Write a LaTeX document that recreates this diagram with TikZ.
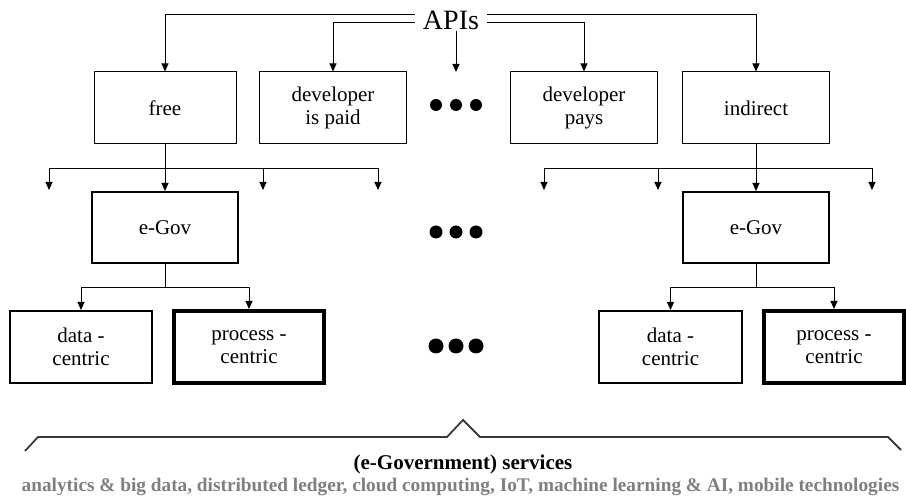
\documentclass[tikz,border=0pt]{standalone}
\usepackage{fontspec}
\setmainfont{Liberation Serif}
\usetikzlibrary{arrows.meta, calc}

\definecolor{bracegray}{HTML}{3A3A3A}
\definecolor{techgray}{HTML}{7F7F7F}

\begin{document}
\begin{tikzpicture}[x=1pt, y=-1pt,
    box/.style={draw, line width=1pt, align=center, minimum height=72pt, inner sep=0pt,
        font=\fontsize{21}{23}\selectfont},
    egovbox/.style={box, line width=2pt, minimum height=71pt},
    procbox/.style={box, line width=4pt},
    arr/.style={-{Triangle[length=8pt,width=7pt]}, line width=1pt},
    dot/.style={fill=black, draw=none}]
    \useasboundingbox (0,0) rectangle (906,502);

    % business models
    \node[font=\fontsize{28}{30}\selectfont, inner xsep=8pt, inner ysep=1pt] (api) at (451,20) {APIs};
    \node[box, minimum width=142pt] (free) at (165,108) {free};
    \node[box, minimum width=147pt] (paid) at (333,108) {developer\\is paid};
    \node[box, minimum width=147pt] (pays) at (584,108) {developer\\pays};
    \node[box, minimum width=147pt] (indir) at (756,108) {indirect};
    \coordinate (more) at (456,72);

    \draw[arr] ($(api.west)+(0,-5)$) -| (free);
    \draw[arr] ($(api.west)+(0,2.5)$) -| (paid);
    \draw[arr] ($(api.east)+(0,2.5)$) -| (pays);
    \draw[arr] ($(api.east)+(0,-5)$) -| (indir);
    \draw[arr] (api.south -| more) -- (more);

    % e-Gov level
    \node[egovbox, minimum width=146pt] (egovL) at (165,227.5) {e-Gov};
    \node[egovbox, minimum width=146pt] (egovR) at (756,227.5) {e-Gov};
    \draw[arr] (free) -- (egovL);
    \draw[arr] (indir) -- (egovR);

    \coordinate (busL) at ($(free.south)+(0,24)$);
    \coordinate (busR) at ($(indir.south)+(0,24)$);
    \foreach \x/\n in {49/la, 263/lb, 378/lc, 544/ra, 658/rb, 872/rc}
        \coordinate (\n) at (\x,190);
    \foreach \n in {la, lb, lc} \draw[arr] (busL) -| (\n);
    \foreach \n in {ra, rb, rc} \draw[arr] (busR) -| (\n);

    % service types
    \node[egovbox, minimum width=142pt, minimum height=72pt] (dataL) at (81,347) {data -\\centric};
    \node[procbox, minimum width=150pt] (procL) at (249,347) {process -\\centric};
    \node[egovbox, minimum width=143pt, minimum height=72pt] (dataR) at (670.5,347) {data -\\centric};
    \node[procbox, minimum width=140pt] (procR) at (834,347) {process -\\centric};

    \coordinate (forkL) at ($(egovL.south)+(0,24)$);
    \coordinate (forkR) at ($(egovR.south)+(0,24)$);
    \draw (egovL) -- (forkL);
    \draw (egovR) -- (forkR);
    \draw[arr] (forkL) -| (dataL);
    \draw[arr] (forkL) -| (procL);
    \draw[arr] (forkR) -| (dataR);
    \draw[arr] (forkR) -| (procR);

    % dots
    \foreach \y/\r in {105/6, 232/6.5, 346/7.5}
        \foreach \x in {436, 456, 476}
            \fill[dot] (\x,\y) circle (\r pt);

    % brace and services
    \draw[bracegray, line width=1.8pt] (25,451) -- (38,437) -- (447,437) -- (463,420)
        -- (480,437) -- (888,437) -- (901,450);
    \node[font=\fontsize{21}{24}\selectfont\bfseries] (serv) at (463,464) {(e-Government) services};
    \node[font=\fontsize{19.3}{22}\selectfont\bfseries, text=techgray] (tech) at (460.5,487)
        {analytics \& big data, distributed ledger, cloud computing, IoT, machine learning \& AI, mobile technologies};
\end{tikzpicture}
\end{document}
